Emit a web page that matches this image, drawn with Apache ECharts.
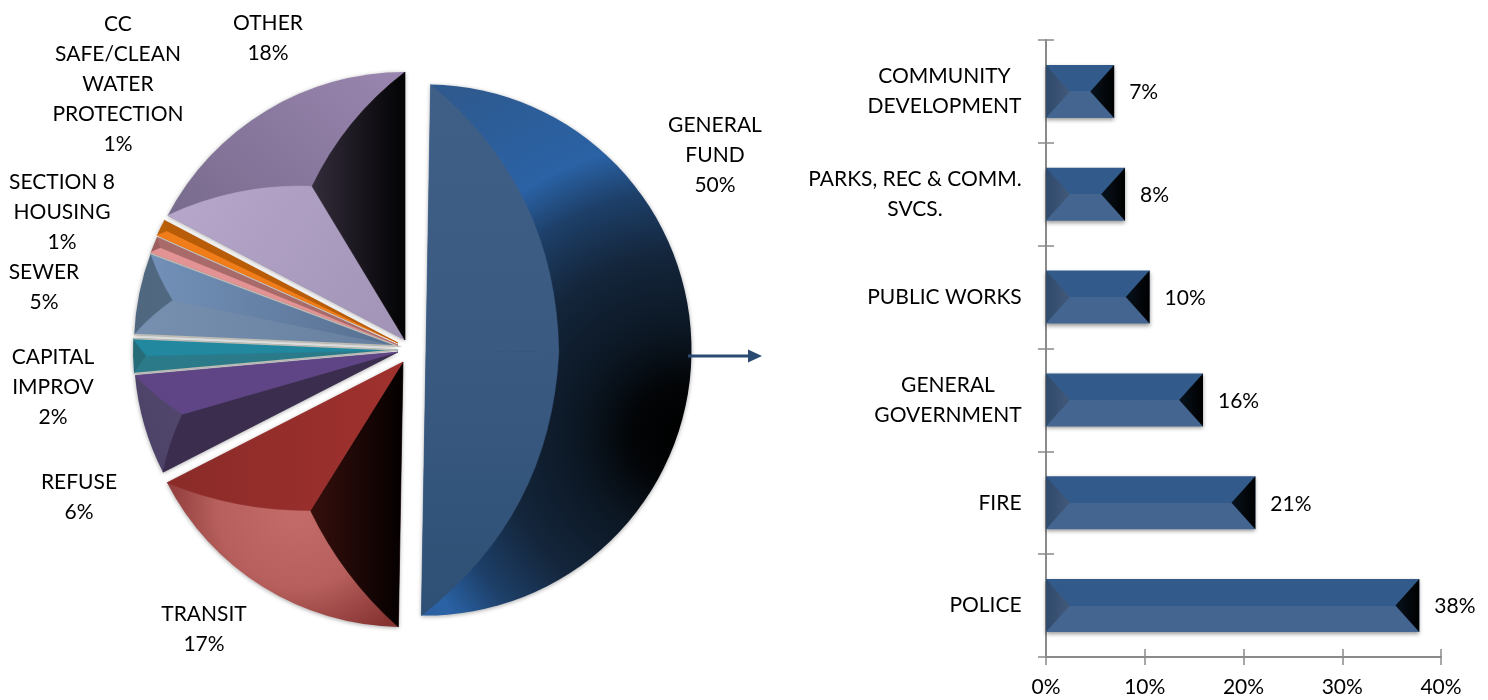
<!DOCTYPE html>
<html><head><meta charset="utf-8">
<style>html,body{margin:0;padding:0;background:#fff}#c{width:1488px;height:700px}</style>
<script src="https://cdn.jsdelivr.net/npm/echarts@6/dist/echarts.min.js"></script>
</head><body><div id="c"></div>
<script>
// ---------- data ----------
const fundNames = ['GENERAL\nFUND','TRANSIT','REFUSE','CAPITAL\nIMPROV','SEWER','SECTION 8\nHOUSING','CC\nSAFE/CLEAN\nWATER\nPROTECTION','OTHER'];
const fundShares = [50,17,6,2,5,1,1,18];
const deptNames = ['POLICE','FIRE','GENERAL\nGOVERNMENT','PUBLIC WORKS','PARKS, REC & COMM.\nSVCS.','COMMUNITY\nDEVELOPMENT'];
const deptShares = [37.8,21.2,15.9,10.49,8,6.9];
const axisPercents = [0,10,20,30,40];

// ---------- layout / style ----------
const FONT = 'Lato';
const FS = 21;
const startAngle = 89;
const sweepNudge = [0,0.7,0.4,0.4,0,0,0,-2.5];
const apexes = [[426,350],[403,362],[398,352],[398,350],[398,346],[398,345],[398,343],[405,340]];
const radii = [265.5,265,264,265,264,264,264,268];
const bevelAt = [0.5,0.66,0.85,0.95,0.87,0.97,0.97,0.67];
const bulge = [0.23,0.1,0.06,0.03,0.06,0.02,0.02,0.12];
const labelAt = [[715,155],[204,629],[79,497],[53,387],[44,287],[62,212],[118,84],[268,38]];
const edgeColor = [null,null,null,'#bcbcb4','#bcbcb4',null,null,null];
const lin = (x,y,x2,y2,...c)=>({type:'linear',x,y,x2,y2,colorStops:c.map((col,i)=>({offset:i/(c.length-1),color:col}))});
const rad = (x,y,r,...s)=>({type:'radial',x,y,r,colorStops:s.map(a=>({offset:a[0],color:a[1]}))});
const outerFill = [
  rad(0.97,0.66,1.5,[0,'#000000'],[0.12,'#020406'],[0.25,'#0b1622'],[0.45,'#14263c'],[0.6,'#1d3f68'],[0.72,'#2a62a5'],[1,'#2e5a90']),
  rad(0.55,0.55,0.62,[0,'#c46c6a'],[0.55,'#b65f5d'],[1,'#853230']),
  lin(0,1,1,0,'#4a3f66','#6a5e80'),
  '#266b78',
  lin(0,0,1,0,'#4f677f','#566f8a'),
  '#9d5d5d',
  '#ba5f0a',
  lin(0,1,1,0,'#6c6180','#9a86b0')
];
const sideA = [
  lin(0,0,0,1,'#3f5f87','#3a5a82'),
  lin(0,0,1,0,'#360f0c','#040000'),
  '#3a2d4e','#2b7a89',lin(0,0,1,0,'#7890b0','#667f9f'),'#e39393','#f07d1a',
  lin(0,0,1,1,'#b7a8cb','#a193b5')
];
const sideB = [
  lin(0,0,0,1,'#3a5a82','#2f5075'),
  lin(0,0,1,0,'#8a2b28','#a0312e'),
  '#5f4585','#22889f',lin(0,0,1,0,'#7290b8','#566f8f'),'#a96a6a','#b85c07',
  lin(0,0,1,0,'#332c3b','#020203')
];

// ---------- slice geometry ----------
const toRad = d => d*Math.PI/180;
const sliceAngles = [];
fundShares.reduce((a,v,i)=>{const e=a-(v*3.6+sweepNudge[i]);sliceAngles.push([a,e]);return e;},startAngle);
const polar = (c,r,deg)=>[c[0]+r*Math.cos(toRad(deg)),c[1]-r*Math.sin(toRad(deg))];
function control(apex,a,b,k){
  const m=[(a[0]+b[0])/2,(a[1]+b[1])/2],d=[b[0]-a[0],b[1]-a[1]];
  let n=[-d[1],d[0]];
  if(n[0]*(m[0]-apex[0])+n[1]*(m[1]-apex[1])<0)n=[-n[0],-n[1]];
  return [m[0]+n[0]*k,m[1]+n[1]*k];
}
function bevelFacets(params){
  const i=params.dataIndex,c=apexes[i],r=radii[i],[a0,a1]=sliceAngles[i];
  const s=polar(c,r,a0),e=polar(c,r,a1),p=polar(c,r*bevelAt[i],(a0+a1)/2);
  const q1=control(c,s,p,bulge[i]),q2=control(c,e,p,bulge[i]);
  const kids=[
    {type:'path',shape:{pathData:`M${c[0]} ${c[1]}L${s[0]} ${s[1]}Q${q1[0]} ${q1[1]} ${p[0]} ${p[1]}Z`},style:{fill:sideA[i],stroke:sideA[i],lineWidth:0.6}},
    {type:'path',shape:{pathData:`M${c[0]} ${c[1]}L${p[0]} ${p[1]}Q${q2[0]} ${q2[1]} ${e[0]} ${e[1]}Z`},style:{fill:sideB[i],stroke:sideB[i],lineWidth:0.6}}
  ];
  if(edgeColor[i])kids.push({type:'polyline',shape:{points:[s,c,e]},style:{fill:null,stroke:edgeColor[i],lineWidth:1.4}});
  return {type:'group',children:kids};
}
const barRatio = 0.515;
function barBevels(params,api){
  const v=api.value(0),idx=api.value(1);
  const end=api.coord([v,idx]),start=api.coord([0,idx]);
  const h=api.size([0,1])[1]*barRatio,y0=end[1]-h/2,y1=end[1]+h/2,d=h*0.45;
  return {type:'group',children:[
    {type:'polygon',shape:{points:[[start[0],y0],[start[0]+d,end[1]],[start[0],y1]]},style:{fill:lin(0,0,1,0,'#2f4a6c','#43597a')}},
    {type:'polygon',shape:{points:[[end[0],y0],[end[0]-d,end[1]],[end[0],y1]]},style:{fill:lin(0,0,1,0,'#08131d','#000000')}}
  ]};
}

// ---------- row labels: lines centred inside a right-aligned block ----------
const mctx=document.createElement('canvas').getContext('2d');mctx.font=FS+'px '+FONT;
const rich={};
const rowFormatter=(val)=>{
  const lines=val.split('\n'),w=Math.ceil(Math.max(...lines.map(t=>mctx.measureText(t).width)));
  const key='w'+w;rich[key]={width:w,align:'center',fontFamily:FONT,fontSize:FS,lineHeight:30,color:'#000'};
  return lines.map(t=>`{${key}|${t}}`).join('\n');
};
deptNames.forEach(rowFormatter);

const axisColor='#8a8a8a';
const pieSeries=fundShares.map((v,i)=>({
  type:'pie',name:fundNames[i].replace(/\n/g,' '),silent:true,z:2,
  center:apexes[i],radius:[0,radii[i]],
  startAngle:sliceAngles[i][0],endAngle:sliceAngles[i][1],
  avoidLabelOverlap:false,
  itemStyle:{color:outerFill[i],shadowBlur:4,shadowColor:'rgba(0,0,0,0.35)',shadowOffsetY:1},
  label:{show:true,position:'outside',formatter:'{b}\n{c}%',fontFamily:FONT,fontSize:FS,lineHeight:30,color:'#000',align:'center'},
  labelLine:{show:false},
  labelLayout:()=>({x:labelAt[i][0],y:labelAt[i][1],align:'center',verticalAlign:'middle'}),
  data:[{name:fundNames[i],value:v}]
}));

const chart=echarts.init(document.getElementById('c'),null,{renderer:'canvas'});
chart.setOption({
  animation:false,backgroundColor:'#fff',
  grid:{left:1046,top:40,width:395,height:617},
  xAxis:[
    {type:'value',min:axisPercents[0],max:axisPercents[axisPercents.length-1],interval:10,position:'bottom',
     splitLine:{show:false},axisLine:{show:true,lineStyle:{color:axisColor,width:2}},
     axisTick:{show:true,length:8,lineStyle:{color:axisColor,width:1.5}},
     axisLabel:{margin:20,formatter:'{value}%',fontFamily:FONT,fontSize:FS,color:'#000',hideOverlap:false}},
    {type:'value',min:0,max:40,interval:10,position:'bottom',splitLine:{show:false},axisLine:{show:false},
     axisTick:{show:true,inside:true,length:8,lineStyle:{color:axisColor,width:1.5}},axisLabel:{show:false}}
  ],
  yAxis:[
    {type:'category',data:deptNames,position:'left',
     axisLine:{show:true,lineStyle:{color:axisColor,width:2}},
     axisTick:{show:true,length:8,lineStyle:{color:axisColor,width:1.5}},
     axisLabel:{margin:24,interval:0,formatter:rowFormatter,rich}},
    {type:'category',data:deptNames,position:'left',axisLine:{show:false},
     axisTick:{show:true,inside:true,length:8,lineStyle:{color:axisColor,width:1.5}},axisLabel:{show:false}}
  ],
  graphic:[
    {type:'line',shape:{x1:688,y1:356,x2:752,y2:356},style:{stroke:'#2b4a72',lineWidth:3},z:10},
    {type:'polygon',shape:{points:[[748,349.5],[762,356],[748,362.5]]},style:{fill:'#2b4a72'},z:10}
  ],
  series:[
    ...pieSeries,
    {type:'custom',name:'slice bevels',coordinateSystem:'none',silent:true,z:3,renderItem:bevelFacets,data:fundShares},
    {type:'bar',name:'departments',data:deptShares,barWidth:(barRatio*100)+'%',silent:true,z:2,
     itemStyle:{color:{type:'linear',x:0,y:0,x2:0,y2:1,colorStops:[
       {offset:0,color:'#325a8a'},{offset:0.5,color:'#325a8a'},{offset:0.5,color:'#44658f'},{offset:1,color:'#44658f'}]},
       shadowBlur:4,shadowColor:'rgba(0,0,0,0.4)',shadowOffsetY:2},
     label:{show:true,position:'right',distance:15,offset:[0,1],formatter:p=>Math.round(p.value)+'%',fontFamily:FONT,fontSize:FS,color:'#000'}},
    {type:'custom',name:'bar bevels',coordinateSystem:'cartesian2d',silent:true,z:3,clip:false,renderItem:barBevels,
     encode:{x:0,y:1},data:deptShares.map((v,i)=>[v,i])}
  ]
});
</script></body></html>
